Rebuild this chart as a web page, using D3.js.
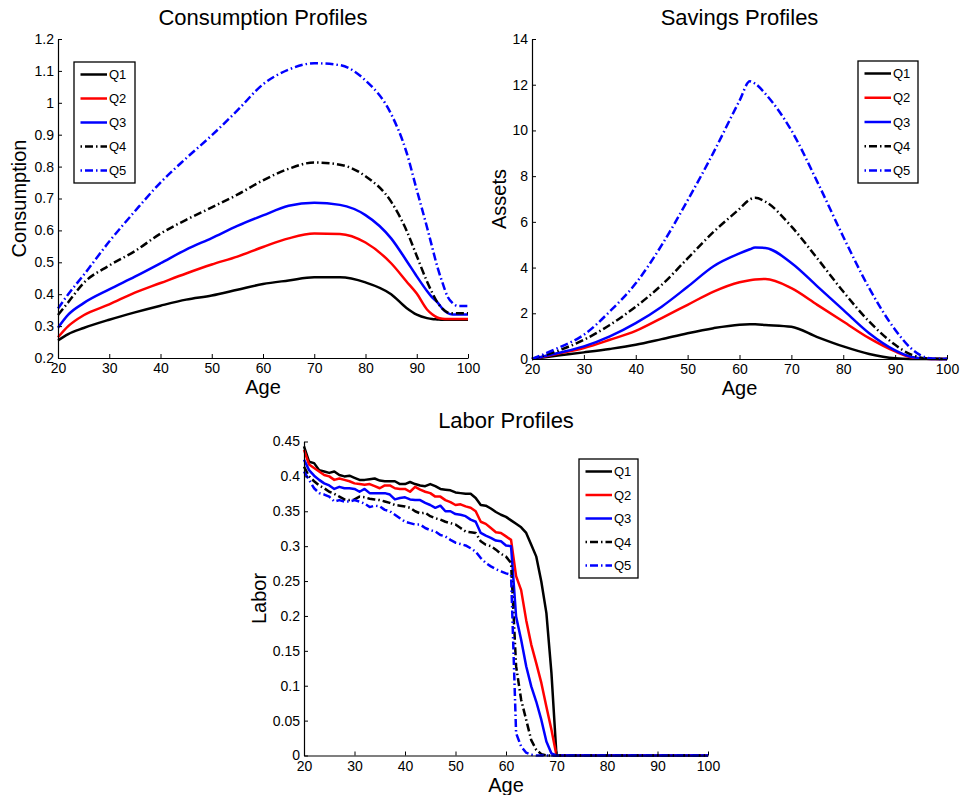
<!DOCTYPE html>
<html>
<head>
<meta charset="utf-8">
<script src="https://cdn.jsdelivr.net/npm/d3@7"></script>
<style>
  body { margin: 0; background: #fff; }
  svg { display: block; font-family: 'Liberation Sans', Arial, sans-serif; }
</style>
</head>
<body>
<div id="graf"></div>
<script>
// I. Datos
series  = ['Q1', 'Q2', 'Q3', 'Q4', 'Q5']
colores = ['#000000', '#ff0000', '#0000ff', '#000000', '#0000ff']
estilos = ['solid', 'solid', 'solid', 'dashdot', 'dashdot']

ageTicks  = [20, 30, 40, 50, 60, 70, 80, 90, 100]
consTicks = [0.2, 0.3, 0.4, 0.5, 0.6, 0.7, 0.8, 0.9, 1, 1.1, 1.2]
savTicks  = [0, 2, 4, 6, 8, 10, 12, 14]
labTicks  = [0, 0.05, 0.1, 0.15, 0.2, 0.25, 0.3, 0.35, 0.4, 0.45]

// Consumo
consAges = [20, 22, 25, 30, 35, 40, 45, 50, 55, 60, 65, 70, 75, 80, 85, 88, 90, 92, 93, 94, 95, 96, 97, 98, 100]
consQ1 = [0.255, 0.275, 0.294, 0.320, 0.343, 0.364, 0.383, 0.396, 0.414, 0.432, 0.443, 0.453, 0.453, 0.437, 0.400, 0.357, 0.336, 0.325, 0.322, 0.321, 0.320, 0.320, 0.320, 0.320, 0.320]
consQ2 = [0.265, 0.300, 0.334, 0.368, 0.405, 0.435, 0.465, 0.493, 0.518, 0.548, 0.575, 0.590, 0.589, 0.562, 0.497, 0.440, 0.402, 0.352, 0.337, 0.327, 0.323, 0.322, 0.322, 0.322, 0.322]
consQ3 = [0.295, 0.336, 0.372, 0.415, 0.455, 0.497, 0.540, 0.576, 0.614, 0.647, 0.677, 0.687, 0.680, 0.648, 0.575, 0.505, 0.456, 0.410, 0.390, 0.375, 0.355, 0.341, 0.336, 0.336, 0.336]
consQ4 = [0.335, 0.375, 0.435, 0.490, 0.535, 0.590, 0.633, 0.672, 0.712, 0.757, 0.793, 0.813, 0.806, 0.770, 0.690, 0.600, 0.520, 0.440, 0.405, 0.375, 0.355, 0.343, 0.340, 0.340, 0.340]
consQ5 = [0.355, 0.400, 0.460, 0.565, 0.660, 0.750, 0.826, 0.898, 0.976, 1.058, 1.104, 1.124, 1.118, 1.070, 0.965, 0.845, 0.727, 0.610, 0.548, 0.487, 0.437, 0.393, 0.372, 0.363, 0.363]

// Ahorro
savAges = [20, 25, 30, 35, 40, 45, 50, 55, 60, 62, 63, 65, 70, 75, 80, 85, 90, 93, 95, 97, 100]
savQ1 = [0, 0.15, 0.29, 0.44, 0.62, 0.87, 1.13, 1.35, 1.50, 1.52, 1.52, 1.49, 1.41, 0.96, 0.55, 0.22, 0.03, 0, 0, 0, 0]
savQ2 = [0, 0.23, 0.48, 0.84, 1.23, 1.79, 2.37, 2.95, 3.36, 3.45, 3.48, 3.50, 3.10, 2.37, 1.64, 0.91, 0.33, 0.08, 0.02, 0, 0]
savQ3 = [0, 0.26, 0.55, 0.99, 1.57, 2.29, 3.16, 4.06, 4.62, 4.80, 4.88, 4.86, 4.20, 3.18, 2.15, 1.13, 0.38, 0.10, 0.03, 0, 0]
savQ4 = [0, 0.36, 0.84, 1.49, 2.29, 3.24, 4.40, 5.56, 6.57, 6.98, 7.05, 6.88, 5.80, 4.40, 2.95, 1.64, 0.62, 0.20, 0.06, 0.01, 0]
savQ5 = [0, 0.48, 1.06, 2.08, 3.31, 4.98, 6.94, 9.04, 11.30, 12.15, 12.05, 11.60, 10.00, 7.75, 5.35, 3.10, 1.28, 0.48, 0.15, 0.02, 0]

// Trabajo
labAges = [20, 21, 22, 23, 24, 25, 26, 27, 28, 29,
           30, 31, 32, 33, 34, 35, 36, 37, 38, 39,
           40, 41, 42, 43, 44, 45, 46, 47, 48, 49,
           50, 51, 52, 53, 54, 55, 56, 57, 58, 59,
           60, 61, 62, 63, 64, 65, 66, 67, 68, 69,
           70, 100]
labQ1 = [0.443, 0.421, 0.419, 0.409, 0.407, 0.405, 0.407, 0.402, 0.400, 0.401,
         0.398, 0.395, 0.395, 0.396, 0.397, 0.394, 0.393, 0.393, 0.393, 0.389,
         0.389, 0.392, 0.389, 0.387, 0.386, 0.389, 0.386, 0.382, 0.381, 0.380,
         0.377, 0.376, 0.375, 0.375, 0.369, 0.359, 0.358, 0.354, 0.349, 0.345,
         0.342, 0.337, 0.332, 0.327, 0.319, 0.302, 0.285, 0.249, 0.204, 0.118,
         0, 0]
labQ2 = [0.438, 0.417, 0.412, 0.407, 0.402, 0.400, 0.395, 0.397, 0.395, 0.393,
         0.390, 0.389, 0.388, 0.389, 0.386, 0.383, 0.387, 0.387, 0.383, 0.382,
         0.382, 0.378, 0.385, 0.381, 0.378, 0.376, 0.371, 0.371, 0.366, 0.363,
         0.359, 0.360, 0.357, 0.355, 0.350, 0.335, 0.332, 0.326, 0.320, 0.319,
         0.314, 0.309, 0.257, 0.237, 0.194, 0.159, 0.132, 0.104, 0.070, 0.037,
         0, 0]
labQ3 = [0.424, 0.409, 0.401, 0.395, 0.390, 0.387, 0.382, 0.385, 0.383, 0.383,
         0.382, 0.378, 0.382, 0.376, 0.376, 0.376, 0.376, 0.374, 0.367, 0.369,
         0.370, 0.367, 0.366, 0.366, 0.362, 0.359, 0.355, 0.358, 0.350, 0.350,
         0.346, 0.345, 0.343, 0.338, 0.335, 0.319, 0.315, 0.312, 0.308, 0.307,
         0.301, 0.300, 0.199, 0.166, 0.128, 0.099, 0.077, 0.051, 0.020, 0.003,
         0, 0]
labQ4 = [0.414, 0.400, 0.393, 0.387, 0.383, 0.378, 0.375, 0.371, 0.367, 0.366,
         0.367, 0.371, 0.370, 0.368, 0.367, 0.366, 0.364, 0.362, 0.359, 0.358,
         0.357, 0.355, 0.350, 0.347, 0.348, 0.343, 0.340, 0.338, 0.335, 0.333,
         0.331, 0.326, 0.321, 0.320, 0.319, 0.307, 0.302, 0.300, 0.295, 0.289,
         0.285, 0.276, 0.128, 0.080, 0.051, 0.022, 0.008, 0.002, 0, 0,
         0, 0]
labQ5 = [0.407, 0.395, 0.383, 0.376, 0.374, 0.371, 0.364, 0.366, 0.364, 0.364,
         0.366, 0.364, 0.361, 0.356, 0.358, 0.357, 0.352, 0.350, 0.345, 0.340,
         0.335, 0.333, 0.331, 0.331, 0.326, 0.323, 0.321, 0.316, 0.314, 0.309,
         0.305, 0.303, 0.301, 0.297, 0.292, 0.283, 0.276, 0.271, 0.267, 0.264,
         0.261, 0.259, 0.032, 0.013, 0.004, 0.001, 0, 0, 0, 0,
         0, 0]

// II. Configuración
ancho_total = 962
alto_total = 795

svg = d3.select('#graf').append('svg')
        .attr('width', ancho_total)
        .attr('height', alto_total)

paneles = [
  { titulo: 'Consumption Profiles', ylabel: 'Consumption',
    left: 58, right: 468, top: 39, bottom: 358,
    yDom: [0.2, 1.2], yTicks: consTicks, ages: consAges,
    vals: [consQ1, consQ2, consQ3, consQ4, consQ5], curva: d3.curveMonotoneX,
    leg: { x: 74, y: 62, w: 61, h: 121 }, ylabX: 26 },
  { titulo: 'Savings Profiles', ylabel: 'Assets',
    left: 532, right: 947, top: 39, bottom: 359,
    yDom: [0, 14], yTicks: savTicks, ages: savAges,
    vals: [savQ1, savQ2, savQ3, savQ4, savQ5], curva: d3.curveMonotoneX,
    leg: { x: 858, y: 61, w: 60, h: 122 }, ylabX: 506 },
  { titulo: 'Labor Profiles', ylabel: 'Labor',
    left: 304, right: 708, top: 441.5, bottom: 755.5,
    yDom: [0, 0.45], yTicks: labTicks, ages: labAges,
    vals: [labQ1, labQ2, labQ3, labQ4, labQ5], curva: d3.curveLinear,
    leg: { x: 579, y: 459, w: 59, h: 119 }, ylabX: 266 }
]

// III. Dibujo
function render(p) {
  x = d3.scaleLinear().domain([20, 100]).range([p.left, p.right])
  y = d3.scaleLinear().domain(p.yDom).range([p.bottom, p.top])

  g = svg.append('g')

  // lineas
  linea = d3.line()
            .x(d => x(d[0]))
            .y(d => y(d[1]))
            .curve(p.curva)

  p.vals.forEach((v, i) => {
    pts = p.ages.map((a, j) => [a, v[j]])
    path = g.append('path')
            .attr('d', linea(pts))
            .attr('fill', 'none')
            .attr('stroke', colores[i])
            .attr('stroke-width', 2.5)
            .attr('stroke-linejoin', 'round')
    if (estilos[i] == 'dashdot') path.attr('stroke-dasharray', '8,3,1.5,3')
  })

  // EJE X
  ejeX = g.append('g')
    .attr('transform', 'translate(0,' + p.bottom + ')')
    .call(d3.axisBottom(x).tickValues(ageTicks).tickSizeInner(-4).tickSizeOuter(0).tickPadding(5.5))
  // EJE Y
  ejeY = g.append('g')
    .attr('transform', 'translate(' + p.left + ',0)')
    .call(d3.axisLeft(y).tickValues(p.yTicks).tickSizeInner(-4).tickSizeOuter(0).tickPadding(4)
            .tickFormat(d => String(+d.toFixed(2))))

  ;[ejeX, ejeY].forEach(e => {
    e.selectAll('text').attr('font-size', '14px').attr('fill', '#000')
     .style('font-family', "'Liberation Sans', Arial, sans-serif")
    e.select('.domain').attr('stroke', '#000').attr('stroke-width', 1.2)
    e.selectAll('.tick line').attr('stroke', '#000')
  })

  // textos
  g.append('text')
   .attr('x', (p.left + p.right) / 2)
   .attr('y', p.top - 14)
   .attr('text-anchor', 'middle')
   .attr('font-size', '22px')
   .text(p.titulo)

  g.append('text')
   .attr('x', (p.left + p.right) / 2)
   .attr('y', p.bottom + 36)
   .attr('text-anchor', 'middle')
   .attr('font-size', '20px')
   .text('Age')

  g.append('text')
   .attr('transform', 'translate(' + p.ylabX + ',' + (p.top + p.bottom) / 2 + ') rotate(-90)')
   .attr('text-anchor', 'middle')
   .attr('font-size', '20px')
   .text(p.ylabel)

  // LEYENDA
  L = p.leg
  leg = g.append('g')
  leg.append('rect')
     .attr('x', L.x).attr('y', L.y)
     .attr('width', L.w).attr('height', L.h)
     .attr('fill', '#fff')
     .attr('stroke', '#000')
     .attr('stroke-width', 1.3)
  paso = (L.h - 25) / 4
  series.forEach((s, i) => {
    yy = L.y + 12.5 + i * paso
    ln = leg.append('line')
       .attr('x1', L.x + 6.5).attr('x2', L.x + 33)
       .attr('y1', yy).attr('y2', yy)
       .attr('stroke', colores[i])
       .attr('stroke-width', 2.5)
    if (estilos[i] == 'dashdot') ln.attr('stroke-dasharray', '1.5,3,8,3')
    leg.append('text')
       .attr('x', L.x + 35)
       .attr('y', yy)
       .attr('dy', '0.36em')
       .attr('font-size', '13px')
       .text(s)
  })
}

// IV. Despliegue
paneles.forEach(render)
</script>
</body>
</html>
